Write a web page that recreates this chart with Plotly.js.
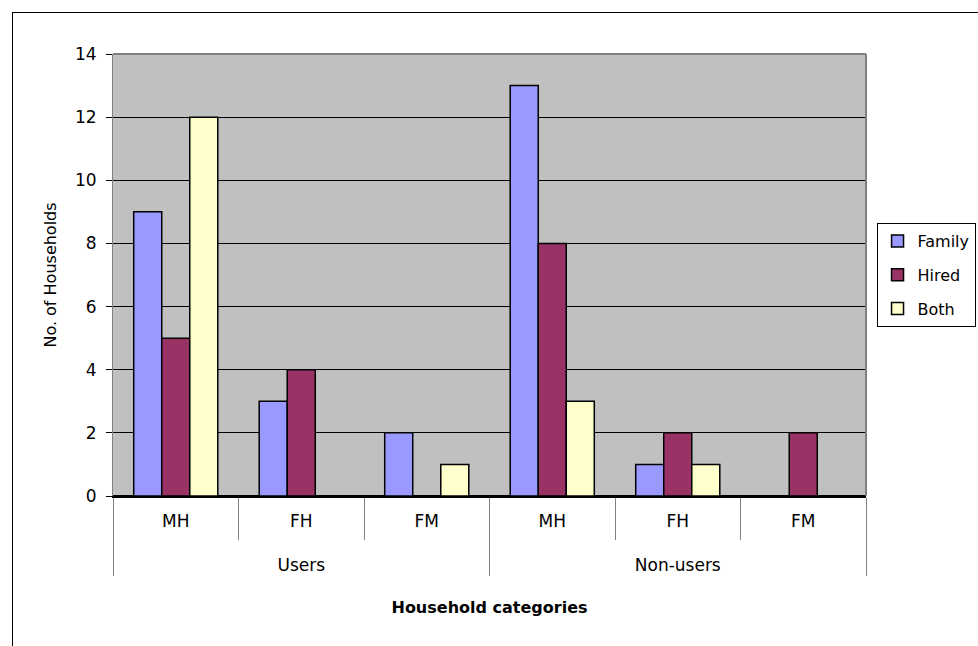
<!DOCTYPE html>
<html>
<head>
<meta charset="utf-8">
<script src="https://cdn.plot.ly/plotly-3.0.1.min.js"></script>
<style>
html,body{margin:0;padding:0;background:#fff;}
#wrap{position:relative;width:978px;height:646px;}
#chart{position:absolute;left:0;top:0;width:978px;height:646px;}
#frame{position:absolute;left:12px;top:12px;width:970px;height:640px;border-top:1px solid #000;border-left:1px solid #000;pointer-events:none;}
</style>
</head>
<body>
<div id="wrap"><div id="chart"></div><div id="frame"></div></div>
<script>
const groups = ["Users","Users","Users","Non-users","Non-users","Non-users"];
const categories = ["MH","FH","FM","MH","FH","FM"];
const family = [9, 3, 2, 13, 1, 0];
const hired = [5, 4, 0, 8, 2, 2];
const both = [12, 0, 1, 3, 1, 0];
const seriesNames = ["Family","Hired","Both"];
const seriesColors = ["#9999FF","#993366","#FFFFCC"];
const yTicks = [0,2,4,6,8,10,12,14];

const font = {family:"DejaVu Sans, Verdana, sans-serif", size:16, color:"#000"};
const tickFont = {family:"DejaVu Sans, Verdana, sans-serif", size:17, color:"#000"};
const seriesValues = [family, hired, both];
// blank spacer line under each category label to separate the group row
const catLabels = categories.map(c => c + "<br><span style='font-size:44px'> </span>");
const traces = seriesValues.map((vals,i)=>({
  type:"bar",
  name:seriesNames[i],
  x:[groups, catLabels],
  y:vals,
  marker:{color:seriesColors[i], line:{color:"#000", width:1.5}},
  legendgroup:"g"+i,
  hoverinfo:"skip"
}));

const layout = {
  width:978, height:646,
  margin:{l:113, r:112, t:54, b:150, autoexpand:false},
  paper_bgcolor:"#fff",
  plot_bgcolor:"#C0C0C0",
  font:font,
  barmode:"group",
  bargap:0.33,
  bargroupgap:0,
  showlegend:true,
  legend:{x:1.014, xanchor:"left", y:0.5, yanchor:"middle",
    bordercolor:"#000", borderwidth:1, bgcolor:"#fff",
    font:font, traceorder:"grouped", tracegroupgap:10},
  xaxis:{
    type:"multicategory",
    showline:true, linecolor:"#000", linewidth:2,
    ticks:"outside", tickson:"boundaries", ticklen:42, tickcolor:"#808080", tickwidth:1,
    showdividers:true, dividercolor:"#808080", dividerwidth:1,
    tickfont:tickFont, ticklabelstandoff:9,
    title:{text:"<b>Household categories</b>", font:font, standoff:27},
    showgrid:false, zeroline:false
  },
  yaxis:{
    range:[0,14], tickvals:yTicks, ticktext:yTicks.map(String),
    showgrid:true, gridcolor:"#000", gridwidth:1,
    zeroline:true, zerolinecolor:"#000", zerolinewidth:2,
    showline:true, linecolor:"#808080", linewidth:1,
    ticks:"outside", ticklen:6, tickcolor:"#000",
    tickfont:tickFont, ticklabelstandoff:6,
    title:{text:"No. of Households", font:font, standoff:14}
  },
  shapes:[
    {type:"line", xref:"paper", yref:"paper", x0:0, x1:1, y0:1, y1:1, line:{color:"#808080", width:2}},
    {type:"line", xref:"paper", yref:"paper", x0:1, x1:1, y0:0, y1:1, line:{color:"#808080", width:2}}
  ]
};

Plotly.newPlot("chart", traces, layout, {displayModeBar:false, staticPlot:true});
</script>
</body>
</html>
